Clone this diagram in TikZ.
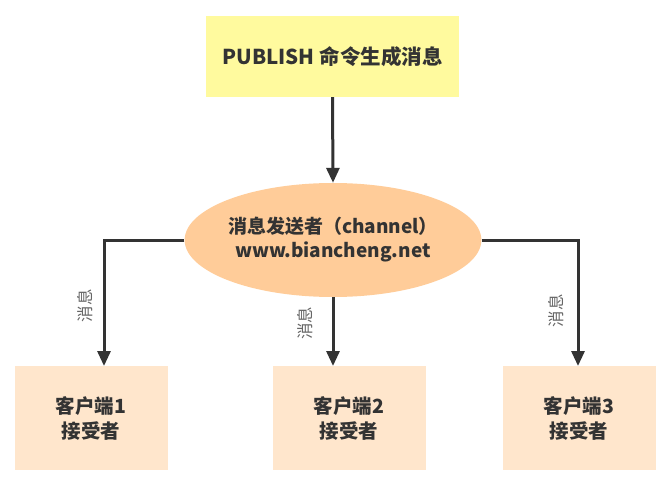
\documentclass[tikz,border=0pt]{standalone}
\usepackage{fontspec}
\setmainfont{Noto Sans CJK SC}
\usetikzlibrary{arrows.meta,shapes.geometric}
\definecolor{pubfill}{HTML}{FFFA9E}
\definecolor{chanfill}{HTML}{FFCC99}
\definecolor{cltfill}{HTML}{FFE6CC}
\definecolor{txtcol}{HTML}{333333}
\definecolor{lblcol}{HTML}{666666}

\begin{document}
\begin{tikzpicture}[x=1pt, y=-1pt,
  flow/.style={draw=txtcol, line width=3pt, -{Triangle[length=15pt,width=13pt]}},
  client/.style={rectangle, fill=cltfill, minimum width=153pt, minimum height=104pt, align=center, text=txtcol, font=\fontsize{19.5}{25}\selectfont\bfseries},
  lbl/.style={rotate=90, text=lblcol, font=\fontsize{16.5}{18}\selectfont}]
\useasboundingbox (0,0) rectangle (672,484);
\node[rectangle, fill=pubfill, minimum width=253pt, minimum height=81pt, text=txtcol, font=\fontsize{20.5}{24}\selectfont\bfseries] (pub) at (332.5,56.5) {PUBLISH 命令生成消息};
\node[ellipse, fill=chanfill, minimum width=286pt, minimum height=114pt, inner sep=0pt, align=center, text=txtcol, font=\fontsize{19}{24}\selectfont\bfseries] (chan) at (333,240) {消息发送者（channel）\\www.biancheng.net};
\node[client] (c1) at (91,418) {客户端1\\接受者};
\node[client] (c2) at (349,418) {客户端2\\接受者};
\node[client] (c3) at (579,418) {客户端3\\接受者};
\coordinate (t1) at (104,366);
\coordinate (t2) at (333,366);
\coordinate (t3) at (578,366);
\draw[flow] (pub.south) -- (chan.north);
\draw[flow] (chan.west) -| (t1) node[pos=0.76, xshift=-19, lbl] {消息};
\draw[flow] (chan.south) -- (t2) node[pos=0.38, xshift=-28, lbl] {消息};
\draw[flow] (chan.east) -| (t3) node[pos=0.78, xshift=-22, lbl] {消息};
\end{tikzpicture}
\end{document}
